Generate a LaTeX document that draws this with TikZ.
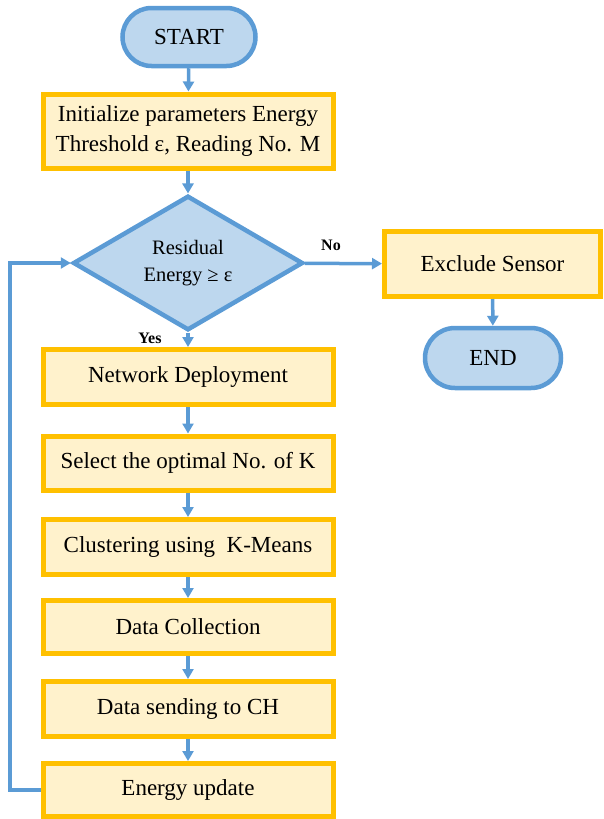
\documentclass[tikz,border=0pt]{standalone}
\usepackage{fontspec}
\setmainfont{Liberation Serif}
\usetikzlibrary{arrows.meta,shapes.geometric,shapes.misc}

\definecolor{lineblue}{RGB}{91,155,213}
\definecolor{fillblue}{RGB}{189,215,238}
\definecolor{boxgold}{RGB}{255,192,0}
\definecolor{boxcream}{RGB}{255,242,204}

\begin{document}
\begin{tikzpicture}[x=1pt,y=-1pt,
    >={Triangle[length=10pt,width=11pt]},
    flow/.style={draw=lineblue,line width=3.5pt,->},
    terminal/.style={rounded rectangle,draw=lineblue,fill=fillblue,line width=4.5pt,
        minimum width=133pt,minimum height=58pt,inner sep=0pt,font=\fontsize{23}{28}\selectfont},
    process/.style={rectangle,draw=boxgold,fill=boxcream,line width=5pt,
        minimum width=290pt,minimum height=54pt,inner sep=0pt,align=center,font=\fontsize{23}{30}\selectfont},
    decision/.style={diamond,draw=lineblue,fill=fillblue,line width=4.5pt,
        minimum width=230pt,minimum height=133pt,inner sep=0pt,align=center,font=\fontsize{20.5}{27}\selectfont},
    answer/.style={font=\fontsize{16}{18}\selectfont\bfseries}]

\useasboundingbox (0,0) rectangle (603,819);

%% Start and set-up
\node[terminal] (start) at (189,37) {START};
\node[process,minimum height=74pt] (init) at (188,131) {Initialize parameters Energy\\Threshold ε, Reading No. M};

%% Decision
\node[decision] (check) at (188,263) {Residual\\Energy ≥ ε};
\node[answer] (no) at (331,245) {No};
\node[answer] (yes) at (150,338) {Yes};

%% Exit branch
\node[process,minimum width=216pt,minimum height=65pt] (exclude) at (492.5,264) {Exclude Sensor};
\node[terminal,minimum width=136pt,minimum height=60pt] (end) at (493,358) {END};

%% Main loop
\node[process,minimum height=55pt] (deploy) at (188,377) {Network Deployment};
\node[process] (select) at (188,463) {Select the optimal No. of K};
\node[process,minimum height=55pt] (cluster) at (188,547) {Clustering using\ \ K-Means};
\node[process,minimum height=53pt] (collect) at (188,627) {Data Collection};
\node[process,minimum height=55pt] (send) at (188,709) {Data sending to CH};
\node[process,minimum height=53pt] (update) at (188,790) {Energy update};

\coordinate (back) at (10,790);

%% Connectors
\draw[flow] (start) -- (init);
\draw[flow] (init) -- (check);
\draw[flow] (check) -- (exclude);
\draw[flow] (exclude) -- (end);
\draw[flow] (check) -- (deploy);
\draw[flow] (deploy) -- (select);
\draw[flow] (select) -- (cluster);
\draw[flow] (cluster) -- (collect);
\draw[flow] (collect) -- (send);
\draw[flow] (send) -- (update);
\draw[flow] (update.west) -- (back) |- (check.west);

\end{tikzpicture}
\end{document}
